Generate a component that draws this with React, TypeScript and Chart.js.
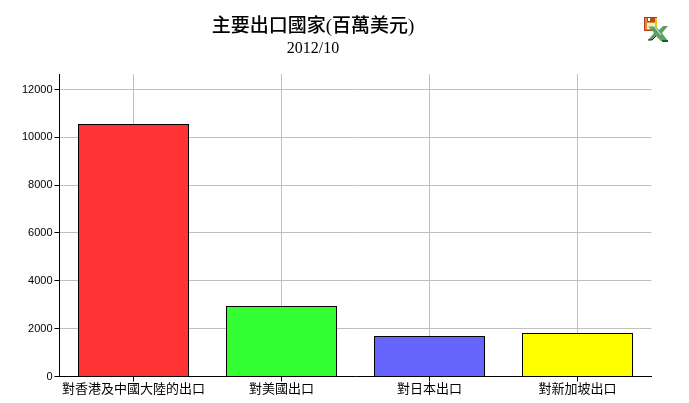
import React, { useEffect, useRef } from "react";
import { Chart, registerables } from "chart.js";

Chart.register(...registerables);

const titleText = "主要出口國家(百萬美元)";
const subtitleText = "2012/10";
const categories = ["對香港及中國大陸的出口", "對美國出口", "對日本出口", "對新加坡出口"];
const exportValues = [10557, 2948, 1693, 1819];
const barColors = ["#ff3333", "#33ff33", "#6666ff", "#ffff00"];
const axisMax = 12648;
const tickValues = [0, 2000, 4000, 6000, 8000, 10000, 12000];

export default function App() {
  const ref = useRef<HTMLCanvasElement | null>(null);

  useEffect(() => {
    document.body.style.margin = "0";
    document.body.style.background = "#fff";
    const chart = new Chart(ref.current as HTMLCanvasElement, {
      type: "bar",
      data: {
        labels: categories,
        datasets: [
          {
            data: exportValues,
            backgroundColor: barColors,
            borderColor: "#000000",
            borderWidth: 1,
            categoryPercentage: 1,
            barPercentage: 0.75,
          },
        ],
      },
      options: {
        animation: false,
        responsive: false,
        devicePixelRatio: 1,
        layout: { padding: { top: 74, right: 37.5, left: 0, bottom: 0 } },
        plugins: { legend: { display: false }, title: { display: false }, tooltip: { enabled: false } },
        scales: {
          x: {
            offset: true,
            grid: { offset: false, color: "#c0c0c0", tickColor: "#000000", tickLength: 5, lineWidth: 1 },
            border: { color: "#000000", width: 1, z: 2 },
            ticks: {
              color: "#000000",
              padding: -1,
              maxRotation: 0,
              autoSkip: false,
              font: { family: "'Noto Sans CJK TC', 'Liberation Sans'", size: 13 },
            },
            afterFit: (s: any) => {
              s.height = 26.5;
            },
          },
          y: {
            min: 0,
            max: axisMax,
            grid: { color: "#c0c0c0", tickColor: "#000000", tickLength: 5, lineWidth: 1 },
            border: { color: "#000000", width: 1, z: 2 },
            afterBuildTicks: (s: any) => {
              s.ticks = tickValues.map((value) => ({ value }));
            },
            ticks: {
              color: "#000000",
              padding: 2,
              callback: (v: any) => String(v),
              font: { family: "'Liberation Sans', Arial", size: 11 },
            },
            afterFit: (s: any) => {
              s.width = 59.5;
            },
          },
        },
      },
    });
    return () => chart.destroy();
  }, []);

  return (
    <div style={{ position: "relative", width: 689, height: 403, overflow: "hidden", background: "#fff" }}>
      <canvas ref={ref} width={689} height={403} style={{ position: "absolute", left: 0, top: 0, display: "block" }} />
      <div
        style={{
          position: "absolute",
          left: 113,
          width: 400,
          top: 14,
          textAlign: "center",
          lineHeight: "24px",
          fontSize: 19,
          fontWeight: 500,
          color: "#000",
          fontFamily: "'Liberation Serif', 'Noto Sans CJK TC'",
          whiteSpace: "nowrap",
        }}
      >
        {titleText}
      </div>
      <div
        style={{
          position: "absolute",
          left: 113,
          width: 400,
          top: 38,
          textAlign: "center",
          lineHeight: "20px",
          fontSize: 16,
          color: "#000",
          fontFamily: "'Liberation Serif', serif",
          whiteSpace: "nowrap",
        }}
      >
        {subtitleText}
      </div>
      <svg
        width="26"
        height="26"
        viewBox="0 0 26 26"
        style={{ position: "absolute", left: 644, top: 17 }}
        shapeRendering="crispEdges"
      >
        <rect x="0.5" y="0.5" width="12" height="13" fill="#e08a3c" stroke="#b03a1a" />
        <rect x="3" y="1" width="8" height="4" fill="#b84a18" />
        <rect x="4" y="1" width="2" height="3" fill="#fff" />
        <rect x="11" y="1" width="2" height="12" fill="#f0c020" />
        <rect x="3" y="6" width="8" height="6" fill="#fff0b0" />
        <path d="M4 9 L11 9 L15 13 L19 9 L24 9 L18 16 L24 24 L17 24 L12 19 L8 23 L4 23 L10 16 Z" fill="#5f9f68" shapeRendering="auto" />
        <path d="M4 9 L10 9 L17 18" stroke="#dff0df" fill="none" shapeRendering="auto" />
        <path d="M4 23 L8 23 L12 19" stroke="#102810" fill="none" shapeRendering="auto" />
        <path d="M18 23.5 L24 23.5" stroke="#0a6a2a" strokeWidth="2" fill="none" />
      </svg>
    </div>
  );
}
